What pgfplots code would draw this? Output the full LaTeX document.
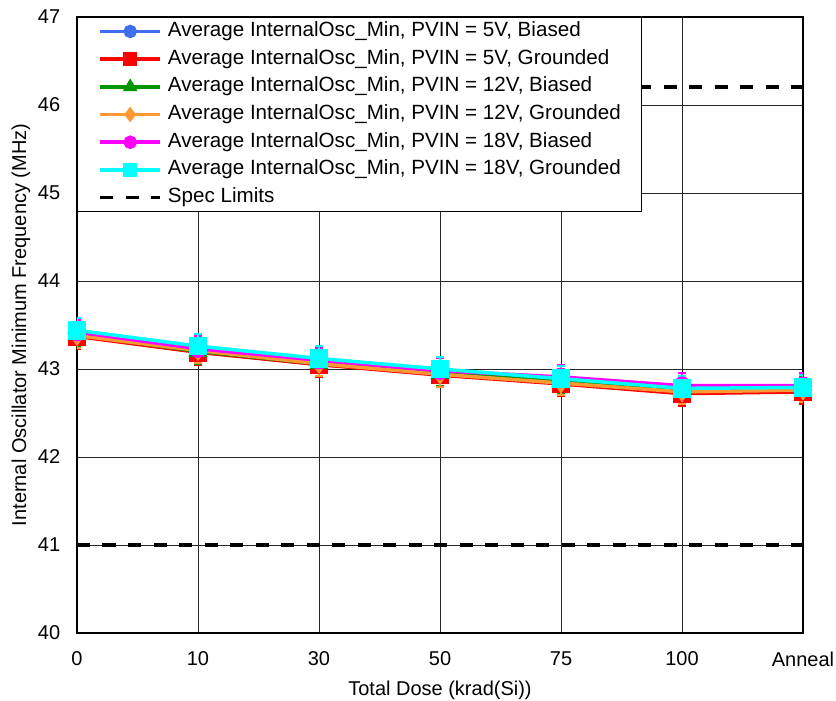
\documentclass[border=0pt]{standalone}
\usepackage{pgfplots}
\pgfplotsset{compat=1.18}
\usetikzlibrary{calc}
\usepackage{fontspec}
\setmainfont{Liberation Sans}
\definecolor{cblue}{RGB}{65,110,240}
\definecolor{cred}{RGB}{255,0,0}
\definecolor{cgreen}{RGB}{0,150,0}
\definecolor{corange}{RGB}{255,153,51}
\definecolor{cmag}{RGB}{255,0,255}
\definecolor{ccyan}{RGB}{0,255,255}
\begin{document}
\fontsize{20}{24}\selectfont
\begin{tikzpicture}
\begin{axis}[
  scale only axis,
  width=726pt, height=616pt,
  xmin=0, xmax=6, ymin=40, ymax=47,
  xtick={0,1,2,3,4,5,6},
  xticklabels={0,10,30,50,75,100,Anneal},
  ytick={40,41,42,43,44,45,46,47},
  /pgf/number format/assume math mode=true,
  tick style={draw=none},
  grid=major,
  major grid style={black!85, line width=0.9pt},
  axis line style={black, line width=1.2pt},
  tick label style={font=\fontsize{20}{24}\selectfont},
  label style={font=\fontsize{20}{24}\selectfont},
  xlabel={Total Dose (krad(Si))},
  ylabel={Internal Oscillator Minimum Frequency (MHz)},
  xticklabel style={yshift=-12pt},
  yticklabel style={xshift=-10pt},
  xlabel style={yshift=-1pt},
  ylabel style={yshift=-6pt},
  legend style={at={(0,1)}, anchor=north west, draw=black, line width=0.9pt, fill=white,
    font=\fontsize{20.6}{24}\selectfont, row sep=9.7pt, column sep=6pt,
    inner xsep=21pt, inner ysep=5pt,
    nodes={inner sep=0pt, text height=14pt, text depth=4pt},
    cells={anchor=west}},
  legend cell align=left,
  legend image code/.code={
    \draw[#1, line width=3.5pt, mark size=5pt, mark repeat=2, mark phase=2] plot coordinates {(0pt,0pt) (30pt,0pt) (60pt,0pt)};
  },
  every axis plot/.append style={line width=3.5pt, mark size=7.5pt},
  error bars/y dir=both, error bars/y explicit,
  error bars/error mark options={rotate=90, mark size=4pt, line width=2pt},
  error bars/error bar style={line width=2pt},
]
\addplot[cblue, mark=*, mark options={solid}] coordinates {
 (0,43.40) +- (0,0.14) (1,43.20) +- (0,0.14) (2,43.05) +- (0,0.14) (3,42.95) +- (0,0.14)
 (4,42.86) +- (0,0.14) (5,42.76) +- (0,0.14) (6,42.77) +- (0,0.14)};
\addlegendentry{Average InternalOsc\_Min, PVIN = 5V, Biased}
\addplot[cred, mark=square*, mark options={solid}] coordinates {
 (0,43.37) +- (0,0.14) (1,43.19) +- (0,0.14) (2,43.05) +- (0,0.14) (3,42.93) +- (0,0.14)
 (4,42.83) +- (0,0.14) (5,42.72) +- (0,0.14) (6,42.74) +- (0,0.14)};
\addlegendentry{Average InternalOsc\_Min, PVIN = 5V, Grounded}
\addplot[cgreen, mark=triangle*, mark options={solid}] coordinates {
 (0,43.39) +- (0,0.14) (1,43.20) +- (0,0.14) (2,43.06) +- (0,0.14) (3,42.95) +- (0,0.14)
 (4,42.86) +- (0,0.14) (5,42.75) +- (0,0.14) (6,42.77) +- (0,0.14)};
\addlegendentry{Average InternalOsc\_Min, PVIN = 12V, Biased}
\addplot[corange, mark=diamond*, mark options={solid}] coordinates {
 (0,43.38) +- (0,0.14) (1,43.21) +- (0,0.14) (2,43.06) +- (0,0.14) (3,42.94) +- (0,0.14)
 (4,42.84) +- (0,0.14) (5,42.74) +- (0,0.14) (6,42.76) +- (0,0.14)};
\addlegendentry{Average InternalOsc\_Min, PVIN = 12V, Grounded}
\addplot[cmag, mark=*, mark options={solid}] coordinates {
 (0,43.42) +- (0,0.14) (1,43.23) +- (0,0.14) (2,43.10) +- (0,0.14) (3,42.98) +- (0,0.14)
 (4,42.91) +- (0,0.14) (5,42.81) +- (0,0.14) (6,42.81) +- (0,0.14)};
\addlegendentry{Average InternalOsc\_Min, PVIN = 18V, Biased}
\addplot[ccyan, mark=square*, mark options={solid}] coordinates {
 (0,43.44) +- (0,0.14) (1,43.26) +- (0,0.14) (2,43.12) +- (0,0.14) (3,43.00) +- (0,0.14)
 (4,42.89) +- (0,0.14) (5,42.78) +- (0,0.14) (6,42.79) +- (0,0.14)};
\addlegendentry{Average InternalOsc\_Min, PVIN = 18V, Grounded}
\addplot[black, line width=4pt, dash pattern=on 13pt off 12.5pt, no markers, error bars/y dir=none] coordinates {(0,46.2) (6,46.2)};
\addlegendentry{Spec Limits}
\addplot[black, line width=4pt, dash pattern=on 13pt off 12.5pt, no markers, error bars/y dir=none, forget plot] coordinates {(0,41) (6,41)};
\end{axis}
\pgfresetboundingbox
\path[use as bounding box] ($(current axis.south west)+(-77pt,-68pt)$) rectangle ($(current axis.north east)+(33pt,17pt)$);
\end{tikzpicture}
\end{document}
